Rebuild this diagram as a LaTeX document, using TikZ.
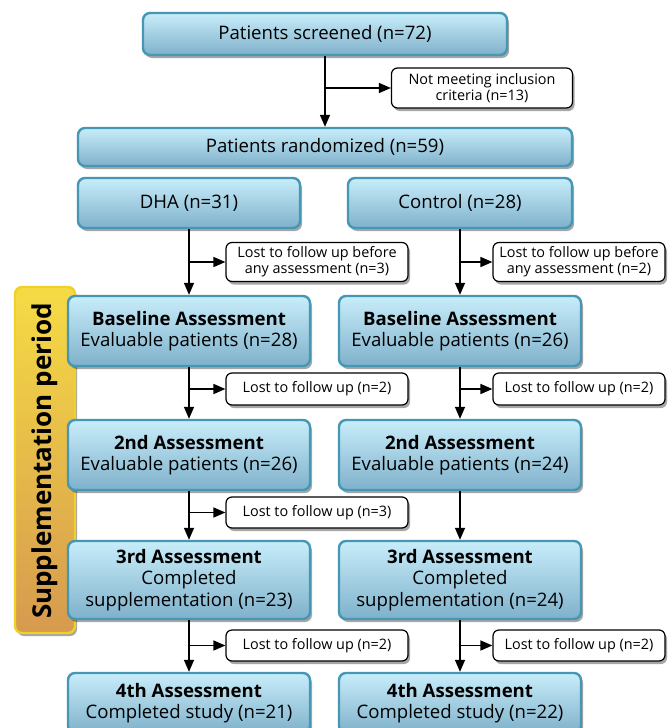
\documentclass[tikz,border=0pt]{standalone}
\usepackage{fontspec}
\setmainfont{Open Sans}
\usetikzlibrary{arrows.meta,shadows}
\definecolor{boxtop}{HTML}{C8EDFA}
\definecolor{boxbot}{HTML}{7FB1CB}
\definecolor{boxedge}{HTML}{4597B3}
\definecolor{suptop}{HTML}{F6DB45}
\definecolor{supbot}{HTML}{D69A4E}
\definecolor{supedge}{HTML}{EFD12A}
\begin{document}
\begin{tikzpicture}[x=1pt,y=-1pt,
  bluebox/.style={draw=boxedge, line width=2.4pt, rounded corners=7pt,
    top color=boxtop, bottom color=boxbot, align=center, inner sep=0pt,
    font=\fontsize{18.6}{21.5}\selectfont,
    drop shadow={shadow xshift=2pt, shadow yshift=-3pt, opacity=0.35, fill=black}},
  lostbox/.style={draw=black, line width=1.2pt, rounded corners=6pt, fill=white,
    align=center, inner sep=0pt, font=\fontsize{14.4}{15.8}\selectfont,
    drop shadow={shadow xshift=2pt, shadow yshift=-3pt, opacity=0.35, fill=black}},
  arr/.style={line width=1.5pt, -{Triangle[length=12pt,width=10pt]}}
]
\useasboundingbox (0,0) rectangle (670,728);
\clip (0,0) rectangle (670,728);
\fill[white] (0,0) rectangle (670,728);

% supplementation bar
\node[draw=supedge, line width=2.4pt, rounded corners=7pt, top color=suptop, bottom color=supbot,
  minimum width=60, minimum height=346, inner sep=0pt,
  drop shadow={shadow xshift=2pt, shadow yshift=-3pt, opacity=0.35, fill=black}] (sup) at (45,460) {};
\node[rotate=90, font=\fontsize{26}{28}\bfseries\selectfont] (suptxt) at (45,461) {Supplementation period};

% top
\node[bluebox, minimum width=364, minimum height=42] (scr) at (325,34) {Patients screened (n=72)};
\node[lostbox, minimum width=181, minimum height=40] (notm) at (482,88) {Not meeting inclusion\\criteria (n=13)};
\node[bluebox, minimum width=494, minimum height=38] (rand) at (325,147) {Patients randomized (n=59)};
\node[bluebox, minimum width=222, minimum height=50] (dha) at (189,203) {DHA (n=31)};
\node[bluebox, minimum width=224, minimum height=50] (ctl) at (460,203) {Control (n=28)};

% left column
\node[lostbox, minimum width=182, minimum height=39] (l1) at (317,262) {Lost to follow up before\\any assessment (n=3)};
\node[bluebox, minimum width=242, minimum height=70] (b1) at (189,331) {\textbf{Baseline Assessment}\\Evaluable patients (n=28)};
\node[lostbox, minimum width=182, minimum height=32] (l2) at (317,389) {Lost to follow up (n=2)};
\node[bluebox, minimum width=242, minimum height=70] (s1) at (189,455) {\textbf{2nd Assessment}\\Evaluable patients (n=26)};
\node[lostbox, minimum width=182, minimum height=31] (l3) at (317,512.5) {Lost to follow up (n=3)};
\node[bluebox, minimum width=242, minimum height=78] (t1) at (189,580) {\textbf{3rd Assessment}\\Completed\\supplementation (n=23)};
\node[lostbox, minimum width=182, minimum height=31] (l4) at (317,645.5) {Lost to follow up (n=2)};
\node[bluebox, minimum width=242, minimum height=60] (f1) at (189,703) {\textbf{4th Assessment}\\Completed study (n=21)};

% right column
\node[lostbox, minimum width=172, minimum height=39] (r1) at (579,262) {Lost to follow up before\\any assessment (n=2)};
\node[bluebox, minimum width=242, minimum height=70] (b2) at (460,331) {\textbf{Baseline Assessment}\\Evaluable patients (n=26)};
\node[lostbox, minimum width=172, minimum height=32] (r2) at (579,389) {Lost to follow up (n=2)};
\node[bluebox, minimum width=242, minimum height=70] (s2) at (460,455) {\textbf{2nd Assessment}\\Evaluable patients (n=24)};
\node[bluebox, minimum width=242, minimum height=78] (t2) at (460,580) {\textbf{3rd Assessment}\\Completed\\supplementation (n=24)};
\node[lostbox, minimum width=172, minimum height=31] (r4) at (579,645.5) {Lost to follow up (n=2)};
\node[bluebox, minimum width=242, minimum height=60] (f2) at (460,703) {\textbf{4th Assessment}\\Completed study (n=22)};

% arrows
\draw[arr] (scr.south) -- (rand.north);
\draw[arr] (scr.south |- notm.west) -- (notm.west);

\draw[arr] (dha.south) -- (b1.north);
\draw[arr] (dha.south |- l1.west) -- (l1.west);
\draw[arr] (b1.south) -- (s1.north);
\draw[arr] (b1.south |- l2.west) -- (l2.west);
\draw[arr] (s1.south) -- (t1.north);
\draw[arr] (s1.south |- l3.west) -- (l3.west);
\draw[arr] (t1.south) -- (f1.north);
\draw[arr] (t1.south |- l4.west) -- (l4.west);

\draw[arr] (ctl.south) -- (b2.north);
\draw[arr] (ctl.south |- r1.west) -- (r1.west);
\draw[arr] (b2.south) -- (s2.north);
\draw[arr] (b2.south |- r2.west) -- (r2.west);
\draw[arr] (s2.south) -- (t2.north);
\draw[arr] (t2.south) -- (f2.north);
\draw[arr] (t2.south |- r4.west) -- (r4.west);
\end{tikzpicture}
\end{document}
